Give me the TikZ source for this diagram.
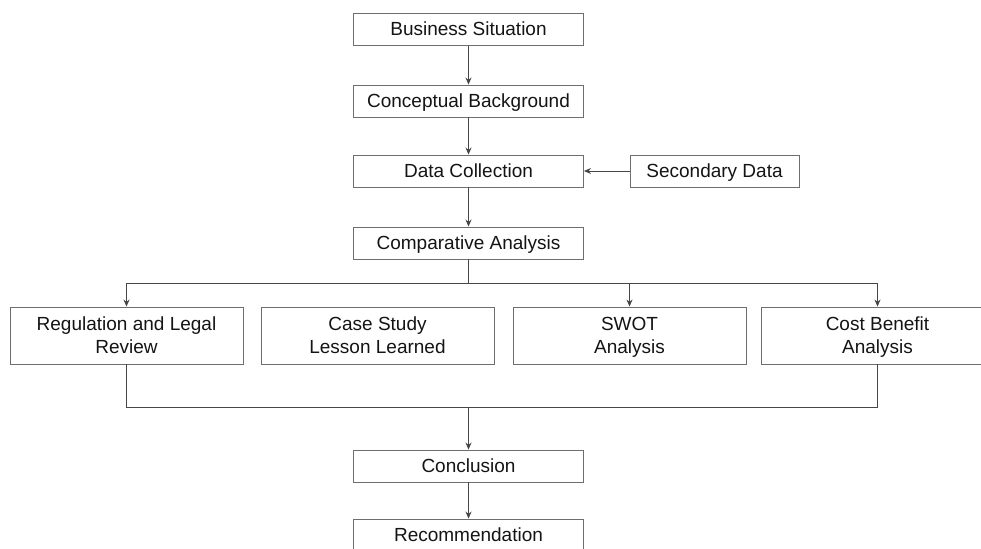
\documentclass[tikz,border=0pt]{standalone}
\usepackage{fontspec}
\setmainfont{Liberation Sans}
\usetikzlibrary{arrows.meta}
\definecolor{boxgray}{RGB}{110,110,110}
\definecolor{linegray}{RGB}{70,70,70}
\definecolor{txt}{RGB}{20,20,20}
\begin{document}
\begin{tikzpicture}[x=1pt,y=-1pt,
  box/.style={draw=boxgray, line width=0.9pt, inner sep=0pt, minimum width=230pt, minimum height=32pt,
    font=\fontsize{19}{23}\selectfont, align=center, text=txt},
  one/.style={box, text height=14pt, text depth=1pt},
  wide/.style={box, minimum width=233pt, minimum height=57pt},
  conn/.style={draw=linegray, line width=0.9pt},
  arr/.style={conn, -{Stealth[length=7pt,width=6pt]}}]
\useasboundingbox (0,0) rectangle (981,548);
\clip (0,0) rectangle (981,548);
\node[one] (BS) at (468.5,29.5) {Business Situation};
\node[one] (CB) at (468.5,101) {Conceptual Background};
\node[one] (DC) at (468.5,171) {Data Collection};
\node[one, minimum width=169pt] (SD) at (714.5,171) {Secondary Data};
\node[one] (CA) at (468.5,243) {Comparative Analysis};
\node[wide] (R1) at (126.5,335.5) {Regulation and Legal\\Review};
\node[wide] (R2) at (377.5,335.5) {Case Study\\Lesson Learned};
\node[wide] (R3) at (629.5,335.5) {SWOT\strut\\Analysis};
\node[wide] (R4) at (877.5,335.5) {Cost Benefit\strut\\Analysis};
\node[one] (CO) at (468.5,466) {Conclusion};
\node[one] (RE) at (468.5,535) {Recommendation};
\coordinate (busT) at (468.5,283);
\coordinate (busB) at (468.5,407);
\draw[arr] (BS) -- (CB);
\draw[arr] (CB) -- (DC);
\draw[arr] (SD) -- (DC);
\draw[arr] (DC) -- (CA);
\draw[conn] (CA.south) -- (busT);
\draw[arr] (busT) -| (R1.north);
\draw[arr] (busT) -| (R4.north);
\draw[arr] (R3.north |- busT) -- (R3.north);
\draw[conn] (R1.south) |- (busB);
\draw[conn] (R4.south) |- (busB);
\draw[arr] (busB) -- (CO);
\draw[arr] (CO) -- (RE);
\end{tikzpicture}
\end{document}
